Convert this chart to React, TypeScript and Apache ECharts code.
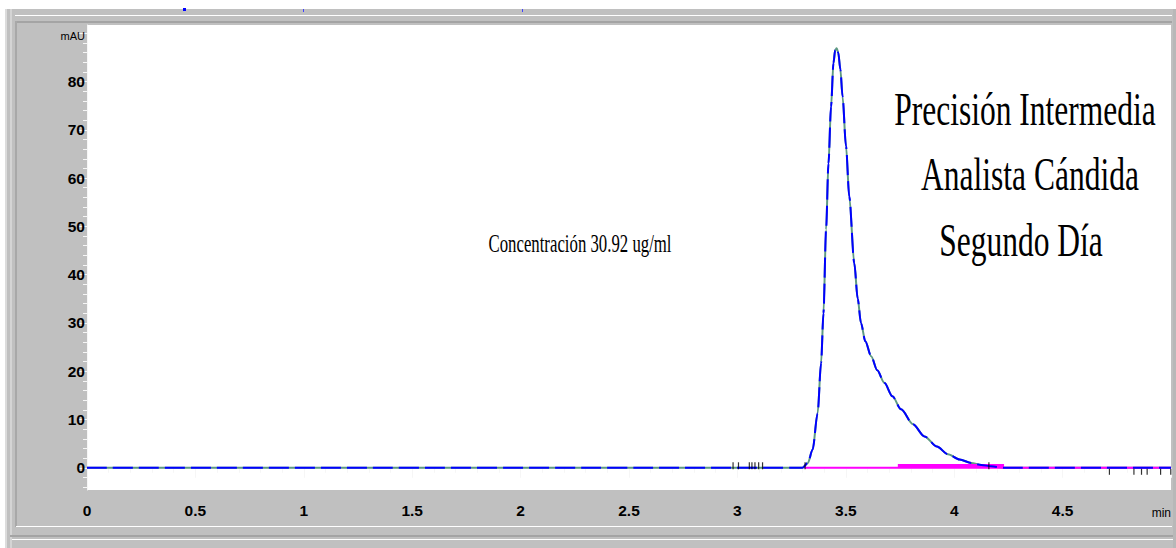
import React, { useEffect, useRef } from "react";
import * as echarts from "echarts";

// Chromatogram (retention time in min, absorbance in mAU)
const times = [0, 3.3, 3.325, 3.347, 3.37, 3.386, 3.397, 3.409, 3.42, 3.432, 3.443, 3.451, 3.458, 3.465, 3.475, 3.485, 3.501, 3.516, 3.539, 3.555, 3.57, 3.59, 3.617, 3.645, 3.678, 3.715, 3.755, 3.81, 3.863, 3.92, 3.971, 4.025, 4.079, 4.125, 4.171, 4.23, 5.0];
const absorbance = [0, 0, 1.0, 3.8, 11.3, 21.7, 32, 49.3, 63, 74.8, 83.8, 86.5, 86.9, 86.0, 82.5, 76.9, 66.6, 56.2, 42.4, 35, 30, 26.2, 23.1, 20.2, 17.6, 14.8, 12.1, 9.0, 6.5, 4.4, 2.8, 1.7, 1.0, 0.6, 0.3, 0, 0];

// Integration baseline (magenta)
const integrationStart = 3.31;
const integrationEnd = 5.0;
const thickBaselineStart = 3.74;
const thickBaselineEnd = 4.23;

// Event marks on the baseline
const eventsUpper = [2.98, 3.005, 3.055, 3.067, 3.081, 3.098, 3.116, 3.312, 4.16];
const eventsLower = [4.716, 4.829, 4.864, 4.89, 4.952, 4.999];

// Axes
const xLabels = [0, 0.5, 1, 1.5, 2, 2.5, 3, 3.5, 4, 4.5, 5];
const xMinorTicks = [0, 0.1, 0.2, 0.3, 0.4, 0.6, 0.7, 0.8, 0.9, 1.1, 1.2, 1.3, 1.4, 1.6, 1.7, 1.8, 1.9, 2.1, 2.2, 2.3, 2.4, 2.6, 2.7, 2.8, 2.9, 3.1, 3.2, 3.3, 3.4, 3.6, 3.7, 3.8, 3.9, 4.1, 4.2, 4.3, 4.4, 4.6, 4.7, 4.8, 4.9];
const yLabels = [0, 10, 20, 30, 40, 50, 60, 70, 80, 90];
const yMinorTicks = [-4, -2, 2, 4, 6, 8, 12, 14, 16, 18, 22, 24, 26, 28, 32, 34, 36, 38, 42, 44, 46, 48, 52, 54, 56, 58, 62, 64, 66, 68, 72, 74, 76, 78, 82, 84, 86, 88];

const titleLines = ["Precisión Intermedia", "Analista Cándida", "Segundo Día"];
const concentrationNote = "Concentración 30.92 ug/ml";

const SANS = '"Liberation Sans", Arial, sans-serif';
const SERIF = '"Liberation Serif", "Times New Roman", serif';

export default function App() {
  const ref = useRef<HTMLDivElement>(null);
  useEffect(() => {
    if (!ref.current) return;
    const chart = echarts.init(ref.current, null, { renderer: "svg" });
    const chrom = times.map((t, i) => [t, absorbance[i]]);
    const tickLineColor = "#f6f6f6";
    chart.setOption({
      animation: false,
      backgroundColor: "#c0c0c0",
      grid: {
        left: 87,
        right: 5,
        top: 25,
        bottom: 58,
        show: true,
        backgroundColor: "#ffffff",
        borderWidth: 0,
      },
      xAxis: [
        {
          type: "value",
          min: 0,
          max: 5,
          position: "bottom",
          axisLine: { show: true, lineStyle: { color: tickLineColor, width: 1 } },
          axisTick: { show: true, customValues: xLabels, length: 10, lineStyle: { color: tickLineColor } },
          axisLabel: {
            customValues: xLabels,
            margin: 12,
            color: "#000",
            fontFamily: SANS,
            fontWeight: "bold",
            fontSize: 15.5,
            alignMaxLabel: "right",
            formatter: (v: number) => (v === 5 ? "{u|min}" : String(v)),
            rich: { u: { fontFamily: SANS, fontWeight: "normal", fontSize: 12, color: "#000", padding: [5, 0, 0, 0] } },
          },
          splitLine: { show: false },
        },
        {
          type: "value",
          min: 0,
          max: 5,
          position: "bottom",
          axisLine: { show: false },
          axisTick: { show: true, customValues: xMinorTicks, length: 5, lineStyle: { color: tickLineColor } },
          axisLabel: { show: false },
          splitLine: { show: false },
        },
      ],
      yAxis: [
        {
          type: "value",
          min: -4.6,
          max: 91.7,
          position: "left",
          axisLine: { show: true, lineStyle: { color: tickLineColor, width: 1 } },
          axisTick: { show: true, customValues: yLabels, length: 9, lineStyle: { color: tickLineColor } },
          axisLabel: {
            customValues: yLabels,
            margin: 2,
            color: "#000",
            fontFamily: SANS,
            fontWeight: "bold",
            fontSize: 15.5,
            formatter: (v: number) => (v === 90 ? "{u|mAU}" : String(v)),
            rich: { u: { fontFamily: SANS, fontWeight: "normal", fontSize: 11, color: "#000", padding: [6, 0, 0, 0] } },
          },
          splitLine: { show: false },
        },
        {
          type: "value",
          min: -4.6,
          max: 91.7,
          position: "left",
          axisLine: { show: false },
          axisTick: { show: true, customValues: yMinorTicks, length: 4, lineStyle: { color: tickLineColor } },
          axisLabel: { show: false },
          splitLine: { show: false },
        },
      ],
      series: [
        {
          type: "line",
          data: chrom,
          showSymbol: false,
          symbol: "none",
          smooth: 0.3,
          smoothMonotone: "x",
          lineStyle: { color: "#5e9a82", width: 2 },
          z: 2,
        },
        {
          type: "line",
          data: [[integrationStart, 0], [integrationEnd, 0]],
          showSymbol: false,
          symbol: "none",
          lineStyle: { color: "#ff00ff", width: 2 },
          z: 3,
        },
        {
          type: "line",
          data: [[thickBaselineStart, 0.35], [thickBaselineEnd, 0.35]],
          showSymbol: false,
          symbol: "none",
          lineStyle: { color: "#ff00ff", width: 4 },
          z: 3,
        },
        {
          type: "line",
          data: chrom,
          showSymbol: false,
          symbol: "none",
          smooth: 0.3,
          smoothMonotone: "x",
          lineStyle: { color: "#0000ff", width: 2, type: [20, 6] },
          z: 4,
        },
        {
          type: "scatter",
          data: eventsUpper.map((t) => [t, 0]),
          symbol: "rect",
          symbolSize: [1.2, 7],
          symbolOffset: [0, -2],
          itemStyle: { color: "#000" },
          z: 5,
        },
        {
          type: "scatter",
          data: eventsLower.map((t) => [t, 0]),
          symbol: "rect",
          symbolSize: [1.2, 6],
          symbolOffset: [0, 4],
          itemStyle: { color: "#000" },
          z: 5,
        },
      ],
      graphic: [
        // window frame decorations
        { type: "rect", shape: { x: 0, y: 0, width: 1176, height: 9 }, style: { fill: "#ffffff" }, z: 1 },
        { type: "rect", shape: { x: 0, y: 0, width: 5, height: 548 }, style: { fill: "#ffffff" }, z: 1 },
        { type: "rect", shape: { x: 5, y: 9, width: 2, height: 539 }, style: { fill: "#dcdcdc" }, z: 1 },
        { type: "rect", shape: { x: 10, y: 9, width: 2, height: 539 }, style: { fill: "#d4d4d4" }, z: 1 },
        { type: "rect", shape: { x: 15, y: 15, width: 1157, height: 1 }, style: { fill: "#ffffff" }, z: 1 },
        { type: "rect", shape: { x: 15, y: 21, width: 1157, height: 2 }, style: { fill: "#a4a4a4" }, z: 1 },
        { type: "rect", shape: { x: 15, y: 21, width: 2, height: 506 }, style: { fill: "#a8a8a8" }, z: 1 },
        { type: "rect", shape: { x: 16, y: 526, width: 1156, height: 1 }, style: { fill: "#ffffff" }, z: 1 },
        { type: "rect", shape: { x: 10, y: 535, width: 1166, height: 2 }, style: { fill: "#a4a4a4" }, z: 1 },
        { type: "rect", shape: { x: 12, y: 539, width: 1164, height: 1 }, style: { fill: "#ffffff" }, z: 1 },
        { type: "rect", shape: { x: 1173, y: 9, width: 3, height: 539 }, style: { fill: "#b8b8b8" }, z: 1 },
        { type: "rect", shape: { x: 183, y: 8, width: 3, height: 3 }, style: { fill: "#0000ff" }, z: 1 },
        { type: "rect", shape: { x: 303, y: 9, width: 1, height: 3 }, style: { fill: "#4040ff" }, z: 1 },
        { type: "rect", shape: { x: 522, y: 9, width: 1, height: 3 }, style: { fill: "#4040ff" }, z: 1 },
        // annotations
        {
          type: "text",
          x: 580,
          y: 244,
          scaleX: 0.685,
          z: 100,
          style: { text: concentrationNote, fontFamily: SERIF, fontSize: 24.5, fill: "#000", textAlign: "center", textVerticalAlign: "middle" },
        },
        {
          type: "text",
          x: 1025,
          y: 110,
          scaleX: 0.685,
          z: 100,
          style: { text: titleLines[0], fontFamily: SERIF, fontSize: 46, fill: "#000", textAlign: "center", textVerticalAlign: "middle" },
        },
        {
          type: "text",
          x: 1030,
          y: 175,
          scaleX: 0.685,
          z: 100,
          style: { text: titleLines[1], fontFamily: SERIF, fontSize: 46, fill: "#000", textAlign: "center", textVerticalAlign: "middle" },
        },
        {
          type: "text",
          x: 1021,
          y: 241,
          scaleX: 0.685,
          z: 100,
          style: { text: titleLines[2], fontFamily: SERIF, fontSize: 46, fill: "#000", textAlign: "center", textVerticalAlign: "middle" },
        },
      ],
    });
    return () => chart.dispose();
  }, []);
  return (
    <div
      ref={ref}
      style={{ position: "fixed", left: 0, top: 0, width: 1176, height: 548 }}
    />
  );
}
